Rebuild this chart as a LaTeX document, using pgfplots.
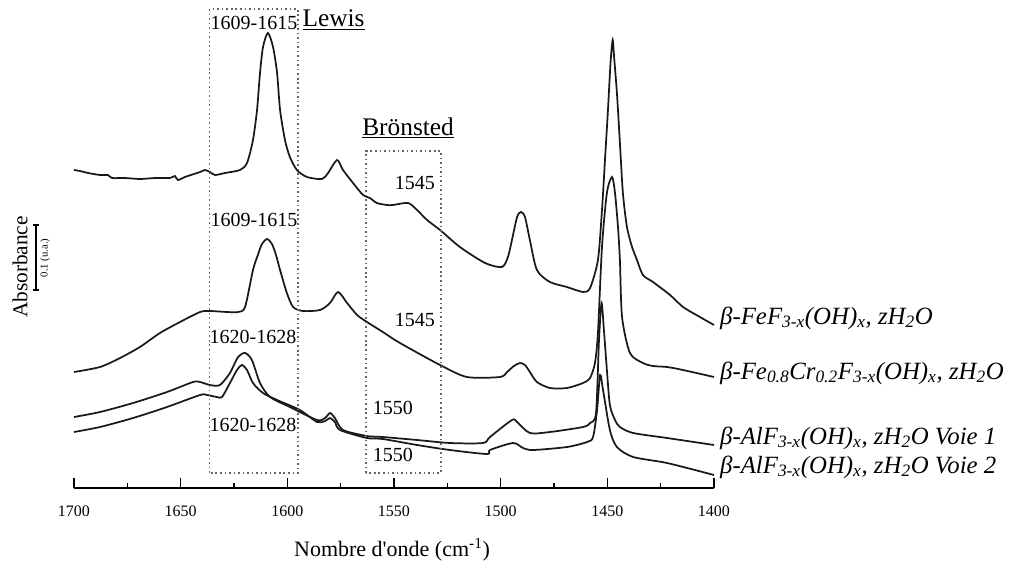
\documentclass[border=0pt]{standalone}
\usepackage{fontspec}
\setmainfont{Liberation Serif}
\usepackage{pgfplots}
\pgfplotsset{compat=1.18}
\begin{document}
\begin{tikzpicture}
\useasboundingbox (-55.5pt,-55.5pt) rectangle (708pt,366pt);
\begin{axis}[
  scale only axis, width=480pt, height=366pt,
  xmin=1400, xmax=1700, ymin=0, ymax=488,
  x dir=reverse, clip=false,
  axis x line=bottom, axis y line=none,
  axis line style={-, line width=1pt},
  xtick={1400,1450,...,1700}, minor x tick num=1,
  tick align=inside, major tick length=7.5pt, minor tick length=4pt,
  every tick/.style={line width=1pt, black},
  /pgf/number format/assume math mode=true,
  /pgf/number format/set thousands separator={},
  xticklabel style={font=\fontsize{12}{14}\selectfont, yshift=-10pt},
  every axis plot/.append style={line width=1.3pt, black!90, smooth, tension=0.45, no markers},
]
% beta-FeF3
\addplot[] coordinates {
(1700,318)(1697.2,317)(1693.4,315)(1687.8,313)(1684.1,313)(1682.2,310)(1676.1,310)(1669.1,309)(1662.0,310)(1655.0,310)(1652.7,312)(1651.3,308)(1648.0,311)(1640.9,316)(1638.6,318)(1636.3,316)(1633.9,313)(1629.2,315)(1622.2,318)(1618.9,325)(1616.1,348)(1614.2,378)(1612.8,415)(1611.4,441)(1609.1,455)(1606.7,441)(1604.8,415)(1603.4,378)(1601.1,348)(1598.8,331)(1595.5,318)(1590.8,311)(1583.8,309)(1580.9,315)(1576.7,328)(1573.9,318)(1569.2,305)(1564.5,293)(1561.3,290)(1558.0,285)(1553.3,283)(1550.5,283)(1543.4,285)(1539.2,278)(1534.5,268)(1528.4,258)(1519.1,241)(1507.3,225)(1499.4,221)(1496.6,231)(1494.7,248)(1492.3,271)(1490.5,276)(1488.6,271)(1486.3,248)(1483.0,218)(1476.9,206)(1468.9,201)(1461.4,196)(1458.1,200)(1454.4,228)(1452.5,278)(1451.1,328)(1449.7,378)(1448.5,425)(1447.5,448)(1446.9,433)(1445.5,395)(1444.1,345)(1442.7,295)(1440.8,261)(1438.4,241)(1436.1,228)(1433.3,213)(1428.6,206)(1420.6,193)(1414.5,181)(1406.6,171)(1400,163)
};
% beta-Fe0.8Cr0.2
\addplot[] coordinates {
(1700,116)(1687.8,121)(1678.4,130)(1669.1,141)(1659.7,155)(1650.3,166)(1640.9,176)(1636.3,177)(1628.3,176)(1623.1,176)(1619.8,181)(1616.1,218)(1613.8,233)(1611.9,244)(1609.5,249)(1607.2,244)(1605.3,233)(1603.4,218)(1600.2,195)(1597.3,181)(1592.7,177)(1584.7,178)(1580.0,185)(1576.2,196)(1572.0,185)(1567.3,173)(1562.7,166)(1555.2,156)(1547.2,145)(1528.4,123)(1515.8,111)(1500.3,111)(1497.0,116)(1493.8,122)(1490.9,125)(1488.6,123)(1486.3,116)(1483.0,106)(1476.9,100)(1468.9,100)(1461.4,105)(1458.1,110)(1455.8,125)(1454.4,155)(1452.5,241)(1450.2,295)(1447.8,311)(1446.4,295)(1445.0,261)(1444.1,228)(1443.1,171)(1439.4,135)(1433.3,125)(1428.6,122)(1422.0,121)(1414.5,118)(1400,111)
};
% beta-AlF3 Voie 1
\addplot[] coordinates {
(1700,71)(1687.8,76)(1672.3,85)(1656.4,96)(1644.2,106)(1640.9,106)(1636.3,103)(1631.6,103)(1626.9,115)(1623.1,131)(1619.8,135)(1616.6,128)(1612.8,105)(1608.1,91)(1598.8,81)(1586.1,68)(1582.3,70)(1580.0,75)(1577.7,70)(1573.9,58)(1562.7,52)(1555.2,51)(1539.2,48)(1523.8,45)(1508.3,45)(1505.0,51)(1494.7,68)(1492.3,66)(1486.3,55)(1476.9,56)(1461.4,61)(1458.1,65)(1455.3,75)(1453.9,148)(1452.7,185)(1451.6,158)(1450.2,118)(1448.8,83)(1446.4,68)(1444.1,61)(1437.9,55)(1422.0,50)(1400,43)
};
% beta-AlF3 Voie 2
\addplot[] coordinates {
(1700,56)(1687.8,61)(1672.3,70)(1656.4,81)(1640.9,93)(1637.7,93)(1633.0,91)(1630.6,91)(1626.9,105)(1623.6,118)(1621.3,123)(1618.9,118)(1616.1,105)(1611.4,95)(1604.8,88)(1594.1,78)(1586.1,66)(1582.3,67)(1580.0,70)(1577.7,66)(1575.3,58)(1562.7,50)(1555.2,49)(1539.2,43)(1523.8,38)(1506.4,34)(1505.0,38)(1494.2,45)(1489.5,40)(1484.8,38)(1468.9,41)(1459.5,46)(1456.7,51)(1454.8,78)(1453.4,113)(1452.0,98)(1448.8,58)(1445.5,41)(1437.9,31)(1422.0,25)(1400,13)
};
% dotted boxes
\draw[gray!80!black, line width=0.9pt, dash pattern=on 1.2pt off 2.2pt]
  (axis cs:1636.3,15) rectangle (axis cs:1595.0,479);
\draw[gray!80!black, line width=0.9pt, dash pattern=on 1.2pt off 2.2pt]
  (axis cs:1563.1,15) rectangle (axis cs:1528.0,337);
% annotations
\tikzset{ann/.style={font=\fontsize{15}{17}\selectfont, inner sep=0pt}}
\node[ann] at (axis cs:1615.6,465) {1609-1615};
\node[ann] at (axis cs:1615.6,268) {1609-1615};
\node[ann] at (axis cs:1616.1,151) {1620-1628};
\node[ann] at (axis cs:1616.1,63) {1620-1628};
\node[ann] at (axis cs:1540.2,305) {1545};
\node[ann] at (axis cs:1540.2,168) {1545};
\node[ann] at (axis cs:1550.5,80) {1550};
\node[ann] at (axis cs:1550.5,33) {1550};
\node[font=\fontsize{19}{21}\selectfont, inner sep=0pt] at (axis cs:1578.3,468) {\underline{Lewis}};
\node[font=\fontsize{19}{21}\selectfont, inner sep=0pt] at (axis cs:1543.4,360) {\underline{Brönsted}};
% series labels
\tikzset{lab/.style={font=\fontsize{18.6}{21}\selectfont\itshape, anchor=west, inner sep=0pt}}
\node[lab] at (axis cs:1397.2,170) {β-FeF\textsubscript{3-x}(OH)\textsubscript{x}, zH\textsubscript{2}O};
\node[lab] at (axis cs:1397.2,115) {β-Fe\textsubscript{0.8}Cr\textsubscript{0.2}F\textsubscript{3-x}(OH)\textsubscript{x}, zH\textsubscript{2}O};
\node[lab] at (axis cs:1397.2,50) {β-AlF\textsubscript{3-x}(OH)\textsubscript{x}, zH\textsubscript{2}O Voie 1};
\node[lab] at (axis cs:1397.2,21) {β-AlF\textsubscript{3-x}(OH)\textsubscript{x}, zH\textsubscript{2}O Voie 2};
% y label and scale bar
\node[font=\fontsize{16}{18}\selectfont, rotate=90, inner sep=0pt] at (axis cs:1725.3,221) {Absorbance};
\draw[line width=0.8pt] (axis cs:1717.8,198) -- (axis cs:1717.8,263);
\draw[line width=0.8pt] ([xshift=-2pt]axis cs:1717.8,198) -- ([xshift=2pt]axis cs:1717.8,198);
\draw[line width=0.8pt] ([xshift=-2pt]axis cs:1717.8,263) -- ([xshift=2pt]axis cs:1717.8,263);
\node[font=\fontsize{8}{9}\selectfont, rotate=90, inner sep=0pt] at (axis cs:1713.6,230) {0.1 (u.a.)};
% x label
\node[font=\fontsize{16.5}{18}\selectfont] at (axis cs:1550.9,-62) {Nombre d\textquotesingle onde (cm\textsuperscript{-1})};
\end{axis}
\end{tikzpicture}
\end{document}
